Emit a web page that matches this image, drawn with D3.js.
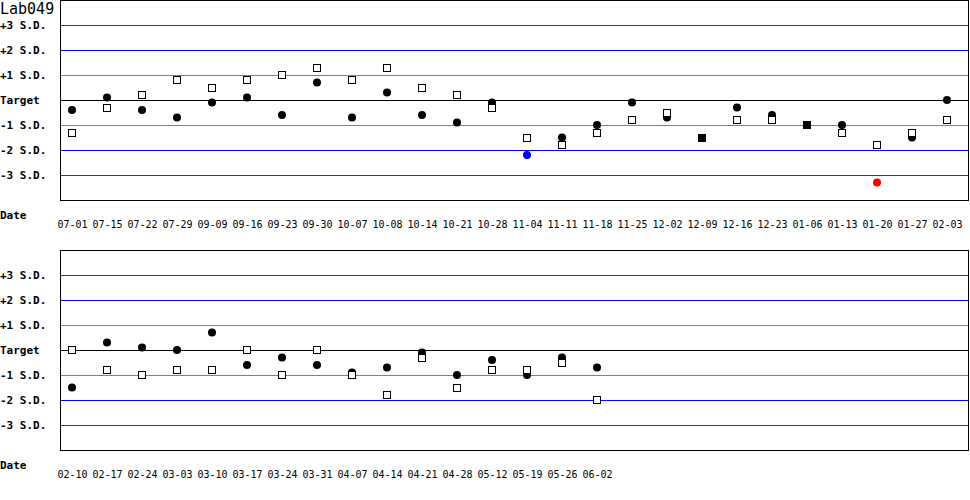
<!DOCTYPE html>
<html>
<head>
<meta charset="utf-8">
<script src="https://cdn.jsdelivr.net/npm/d3@7"></script>
<style>
  body { margin: 0; background: #fff; }
  svg { display: block; }
</style>
</head>
<body>
<div id="chart"></div>
<script>
// level values are in S.D. units from the target
const title = "Lab049";
const sdLabels = ["+3 S.D.", "+2 S.D.", "+1 S.D.", "Target", "-1 S.D.", "-2 S.D.", "-3 S.D."];
const sdValues = [3, 2, 1, 0, -1, -2, -3];

const datesTop = ["07-01", "07-15", "07-22", "07-29", "09-09", "09-16", "09-23", "09-30", "10-07", "10-08",
  "10-14", "10-21", "10-28", "11-04", "11-11", "11-18", "11-25", "12-02", "12-09", "12-16",
  "12-23", "01-06", "01-13", "01-20", "01-27", "02-03"];
const circlesTop = [-0.4, 0.1, -0.4, -0.7, -0.1, 0.1, -0.6, 0.7, -0.7, 0.3,
  -0.6, -0.9, -0.1, -2.2, -1.5, -1.0, -0.1, -0.7, -1.5, -0.3,
  -0.6, -1.0, -1.0, -3.3, -1.5, 0.0];
const squaresTop = [-1.3, -0.3, 0.2, 0.8, 0.5, 0.8, 1.0, 1.3, 0.8, 1.3,
  0.5, 0.2, -0.3, -1.5, -1.8, -1.3, -0.8, -0.5, -1.5, -0.8,
  -0.8, -1.0, -1.3, -1.8, -1.3, -0.8];

const datesBottom = ["02-10", "02-17", "02-24", "03-03", "03-10", "03-17", "03-24", "03-31", "04-07", "04-14",
  "04-21", "04-28", "05-12", "05-19", "05-26", "06-02"];
const circlesBottom = [-1.5, 0.3, 0.1, 0.0, 0.7, -0.6, -0.3, -0.6, -0.9, -0.7,
  -0.1, -1.0, -0.4, -1.0, -0.3, -0.7];
const squaresBottom = [0.0, -0.8, -1.0, -0.8, -0.8, 0.0, -1.0, 0.0, -1.0, -1.8,
  -0.3, -1.5, -0.8, -0.8, -0.5, -2.0];

const width = 970, height = 500;
const slots = 26;

const svg = d3.select("#chart").append("svg")
  .attr("width", width)
  .attr("height", height)
  .attr("shape-rendering", "crispEdges");

function lineColor(v) {
  if (Math.abs(v) == 3) return "#dd0000";
  if (Math.abs(v) == 2) return "#0000ff";
  if (Math.abs(v) == 1) return "#808080";
  return "#000000";
}

function pointColor(v) {
  if (Math.abs(v) > 3) return "#ff0000";
  if (Math.abs(v) > 2) return "#0000ff";
  return "#000000";
}

let xScale = d3.scaleLinear().domain([0, slots - 1]).range([72, 947]);

function drawPanel(top, dates, circles, squares) {
  let yScale = d3.scaleLinear().domain([-4, 4]).range([top + 200, top]);
  let g = svg.append("g");

  // frame
  g.append("rect")
    .attr("x", 60.5).attr("y", top + 0.5)
    .attr("width", 908).attr("height", 200)
    .attr("fill", "none").attr("stroke", "#000");

  g.selectAll("line.sd")
    .data(sdValues)
    .join("line")
    .attr("class", "sd")
    .attr("x1", 61).attr("x2", 968)
    .attr("y1", d => Math.round(yScale(d)) + 0.5)
    .attr("y2", d => Math.round(yScale(d)) + 0.5)
    .attr("stroke", d => lineColor(d));

  g.selectAll("text.sd")
    .data(sdValues)
    .join("text")
    .attr("class", "sd")
    .attr("x", 0)
    .attr("y", d => yScale(d) + 4)
    .attr("font-family", "DejaVu Sans Mono, monospace")
    .attr("font-weight", "bold")
    .attr("font-size", "11px")
    .text((d, i) => sdLabels[i]);

  g.append("text")
    .attr("x", 0).attr("y", top + 219)
    .attr("font-family", "DejaVu Sans Mono, monospace")
    .attr("font-weight", "bold")
    .attr("font-size", "11px")
    .text("Date");

  // date ticks
  g.append("g")
    .attr("transform", `translate(0, ${top + 221})`)
    .call(d3.axisBottom(xScale)
      .tickValues(d3.range(dates.length))
      .tickFormat(i => dates[i])
      .tickSize(0))
    .call(a => a.select(".domain").remove())
    .selectAll("text")
    .attr("y", 0)
    .attr("font-family", "DejaVu Sans Mono, monospace")
    .attr("font-size", "10px")
    .attr("fill", "#000");

  let pts = dates.map((d, i) => ({ i: i, c: circles[i], s: squares[i] }));

  // circles (both levels equal -> filled square instead)
  g.selectAll("circle")
    .data(pts.filter(p => p.c != p.s))
    .join("circle")
    .attr("shape-rendering", "auto")
    .attr("cx", p => xScale(p.i))
    .attr("cy", p => yScale(p.c))
    .attr("r", 4)
    .attr("fill", p => pointColor(p.c));

  g.selectAll("rect.open")
    .data(pts.filter(p => p.c != p.s))
    .join("rect")
    .attr("class", "open")
    .attr("x", p => Math.round(xScale(p.i)) - 3.5)
    .attr("y", p => Math.round(yScale(p.s)) - 3.5)
    .attr("width", 7).attr("height", 7)
    .attr("fill", "#fff").attr("stroke", "#000");

  g.selectAll("rect.full")
    .data(pts.filter(p => p.c == p.s))
    .join("rect")
    .attr("class", "full")
    .attr("x", p => Math.round(xScale(p.i)) - 4)
    .attr("y", p => Math.round(yScale(p.s)) - 4)
    .attr("width", 8).attr("height", 8)
    .attr("fill", "#000");
}

svg.append("text")
  .attr("x", 0).attr("y", 14)
  .attr("font-family", "DejaVu Sans Mono, monospace")
  .attr("font-size", "15px")
  .text(title);

drawPanel(0, datesTop, circlesTop, squaresTop);
drawPanel(250, datesBottom, circlesBottom, squaresBottom);
</script>
</body>
</html>
